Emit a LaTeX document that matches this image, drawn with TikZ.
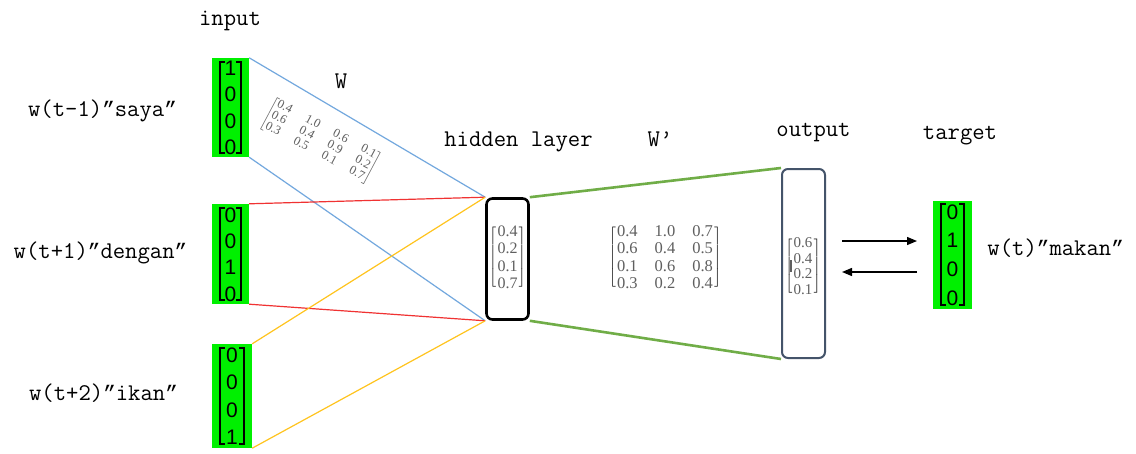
\documentclass[tikz,border=0pt]{standalone}
\usepackage{fontspec}
\setmainfont{Liberation Serif}
\newfontfamily\sanslabel{Liberation Sans}
\newfontfamily\quotefont{Liberation Mono}
\usetikzlibrary{matrix,calc,arrows.meta}

\definecolor{hotgreen}{RGB}{0,240,0}
\definecolor{wblue}{RGB}{115,168,222}
\definecolor{wred}{RGB}{240,50,50}
\definecolor{wyellow}{RGB}{255,196,30}
\definecolor{wgreen}{RGB}{112,173,71}
\definecolor{outslate}{RGB}{68,84,106}
\definecolor{numgray}{RGB}{95,95,95}

% slanted closing quote, same advance as the 24pt mono labels
\newcommand\cq{{\quotefont\fontsize{21}{21}\selectfont ”}}

\tikzset{
  lbl/.style={font=\ttfamily\fontsize{24}{24}\selectfont, anchor=base, inner sep=0pt},
  hotbox/.style={fill=hotgreen, draw=none, inner sep=0pt},
  hotdigit/.style={font=\sanslabel\fontsize{21}{21}\selectfont, inner sep=0pt},
  hotbracket/.style={line width=1.7pt, black},
  valmat/.style={matrix of nodes, inner sep=0pt,
    nodes={text=numgray, inner sep=0pt, text depth=0pt},
    left delimiter={[}, right delimiter={]},
    every delimiter/.style={numgray}},
  wline/.style={line width=1.2pt},
  arr/.style={line width=1.3pt, -{Triangle[length=10pt,width=8pt]}}
}

% one-hot vector: name, x, y, width, height, four digits
\newcommand\onehot[9]{%
  \node[hotbox, minimum width=#4pt, minimum height=#5pt] (#1) at (#2,#3) {};
  \node[hotdigit] (#1-1) at ($(#1.north)!0.11!(#1.south)$) {#6};
  \node[hotdigit] (#1-2) at ($(#1.north)!0.37!(#1.south)$) {#7};
  \node[hotdigit] (#1-3) at ($(#1.north)!0.635!(#1.south)$) {#8};
  \node[hotdigit] (#1-4) at ($(#1.north)!0.90!(#1.south)$) {#9};
  \draw[hotbracket] ([xshift=13pt,yshift=-4pt]#1.north west) -| ([xshift=8pt,yshift=4pt]#1.south west) -- ++(5pt,0pt);
  \draw[hotbracket] ([xshift=-13pt,yshift=-4pt]#1.north east) -| ([xshift=-8pt,yshift=4pt]#1.south east) -- ++(-5pt,0pt);
}

\begin{document}
\begin{tikzpicture}[x=1pt,y=-1pt]
\useasboundingbox (0,0) rectangle (1136,453);
\fill[white] (0,0) rectangle (1136,453);

% labels
\node[lbl] (linput) at (230,25) {input};
\node[lbl] (lW) at (341,88) {W};
\node[lbl] (lsaya) at (102.5,116) {w(t-1)\cq saya\cq};
\node[lbl] (ldengan) at (100.5,258) {w(t+1)\cq dengan\cq};
\node[lbl] (likan) at (103.5,400) {w(t+2)\cq ikan\cq};
\node[lbl] (lhidden) at (518.5,146) {hidden layer};
\node[lbl] (lWp) at (660,146) {W\textquoteright};
\node[lbl] (loutput) at (813.5,136) {output};
\node[lbl] (ltarget) at (960,139) {target};
\node[lbl] (lmakan) at (1055.7,255) {w(t)\cq makan\cq};

% hidden layer and output boxes
\node[draw, line width=2.6pt, rounded corners=6pt, minimum width=42pt, minimum height=121pt, inner sep=0pt] (hid) at (507.5,259) {};
\node[draw=outslate, line width=2pt, rounded corners=6pt, minimum width=43pt, minimum height=189pt, inner sep=0pt] (outb) at (803.5,263.5) {};

% one-hot input and target vectors
\onehot{in1}{230.5}{107.5}{37}{99}{1}{0}{0}{0}
\onehot{in2}{230.5}{254}{37}{100}{0}{0}{1}{0}
\onehot{in3}{232}{396}{40}{104}{0}{0}{0}{1}
\onehot{tgt}{952.5}{254.5}{39}{108}{0}{1}{0}{0}

% input to hidden connections
\draw[wline, wblue] (in1.north east) -- (hid.north west);
\draw[wline, wblue] (in1.south east) -- (hid.south west);
\draw[wline, wred] (in2.north east) -- (hid.north west);
\draw[wline, wred] (in2.south east) -- (hid.south west);
\draw[wline, wyellow] (in3.north east) -- (hid.north west);
\draw[wline, wyellow] (in3.south east) -- (hid.south west);

% hidden to output connections
\draw[line width=2.6pt, wgreen] (hid.north east) -- (outb.north west);
\draw[line width=2.6pt, wgreen] (hid.south east) -- (outb.south west);

% weight matrix W, tilted
\node[rotate=-28, inner sep=0pt, text=numgray, font=\fontsize{12.5}{12.5}\selectfont] (Wm) at (320.5,141)
  {$\left[\vcenter{\hbox{\begin{tabular}{@{}c@{\hspace{16pt}}c@{\hspace{16pt}}c@{\hspace{16pt}}c@{}}
  0.4 & 1.0 & 0.6 & 0.1 \\
  0.6 & 0.4 & 0.9 & 0.2 \\
  0.3 & 0.5 & 0.1 & 0.7
  \end{tabular}}}\right]$};

% hidden layer values
\matrix[valmat, row sep=6.6pt,
  nodes={font=\fontsize{16}{16}\selectfont, text height=11pt}] (hm) at (507.5,257) {
  0.4 \\ 0.2 \\ 0.1 \\ 0.7 \\
};

% weight matrix W'
\matrix[valmat, column sep=17pt, row sep=6.6pt,
  nodes={font=\fontsize{16.5}{16.5}\selectfont, text height=11pt}] (Wpm) at (665,257) {
  0.4 & 1.0 & 0.7 \\
  0.6 & 0.4 & 0.5 \\
  0.1 & 0.6 & 0.8 \\
  0.3 & 0.2 & 0.4 \\
};

% output values
\matrix[valmat, row sep=5.5pt,
  nodes={font=\fontsize{15}{15}\selectfont, text height=10pt}] (om) at (803,266) {
  0.6 \\ 0.4 \\ 0.2 \\ 0.1 \\
};
\draw[line width=2pt, numgray] ([xshift=-2pt,yshift=6pt]om.west) -- ([xshift=-2pt,yshift=-6pt]om.west);

% forward and backward arrows
\coordinate (fa) at (842,241);
\coordinate (fb) at (917,241);
\coordinate (ba) at (917,272);
\coordinate (bb) at (842,272);
\draw[arr] (fa) -- (fb);
\draw[arr] (ba) -- (bb);
\end{tikzpicture}
\end{document}
